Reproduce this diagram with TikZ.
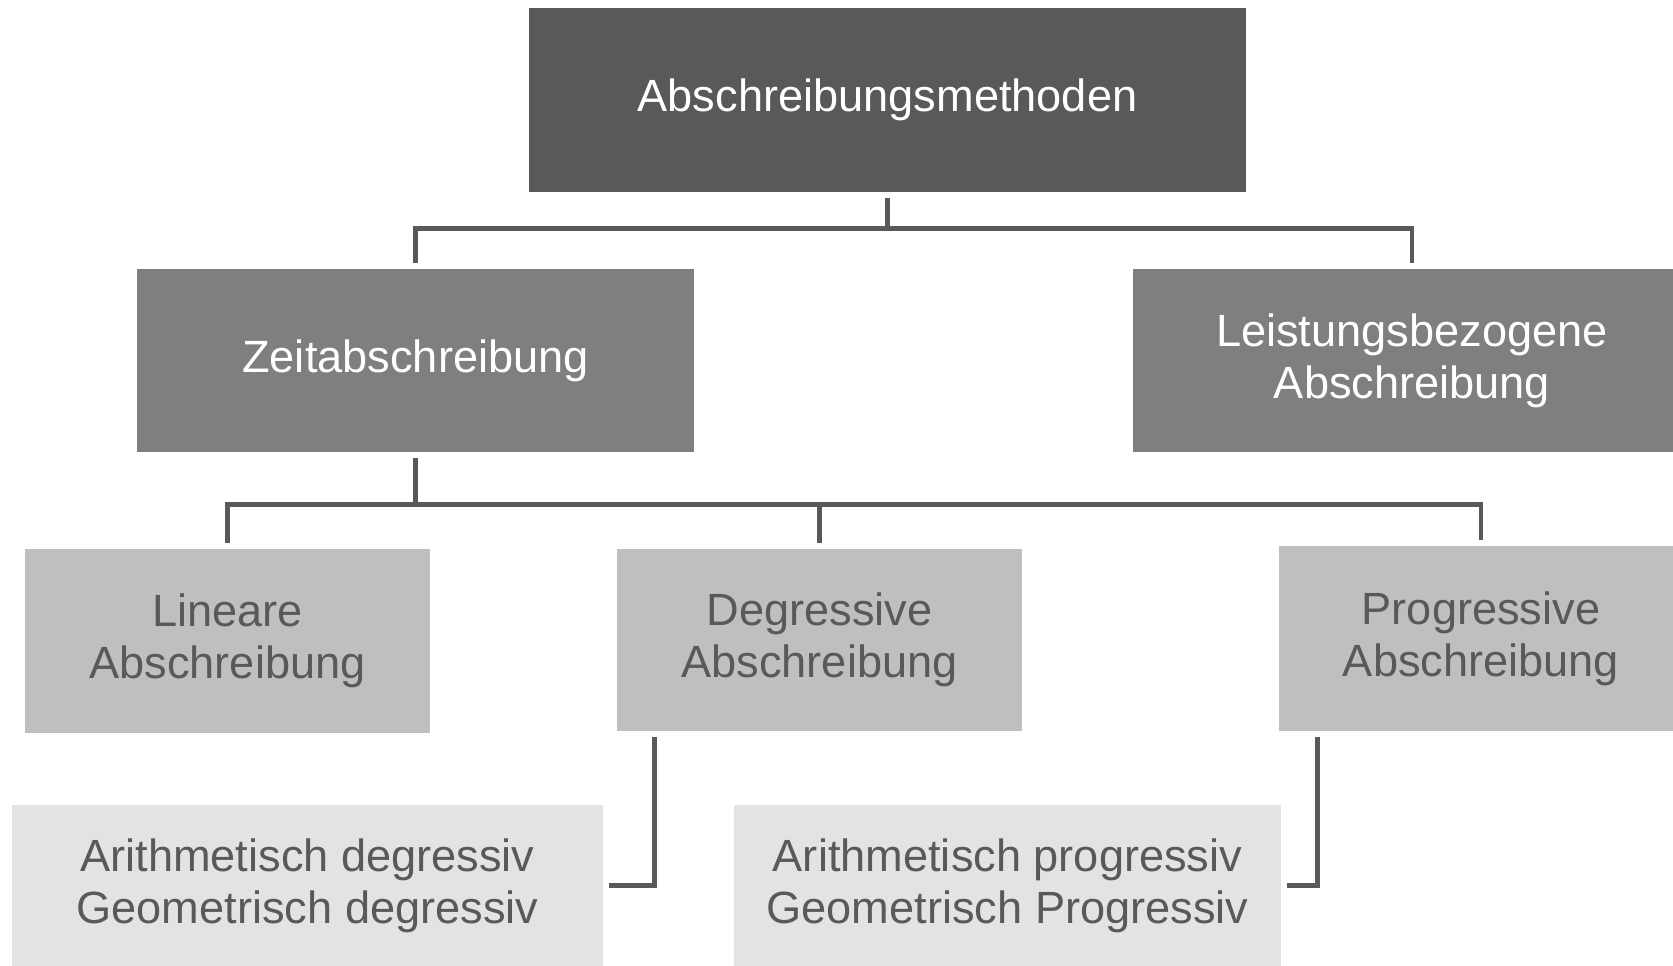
\documentclass[tikz,border=0pt]{standalone}
\usepackage{fontspec}
\setmainfont{Liberation Sans}
\definecolor{toncol}{RGB}{89,89,89}
\definecolor{midcol}{RGB}{127,127,127}
\definecolor{hellcol}{RGB}{191,191,191}
\definecolor{blasscol}{RGB}{227,227,227}

\begin{document}
\begin{tikzpicture}[
        box/.style={rectangle, inner sep=0pt, align=center, font=\fontsize{25.7}{29.5}\selectfont},
        stufea/.style={box, fill=toncol, text=white},
        stufeb/.style={box, fill=midcol, text=white},
        stufec/.style={box, fill=hellcol, text=toncol},
        stufed/.style={box, fill=blasscol, text=toncol},
        conn/.style={draw=toncol, line width=0.094cm, shorten <=0.12cm, shorten >=0.12cm}
    ]
        \useasboundingbox (0,0) rectangle (33.46,-19.32);
        \node [stufea, minimum width=14.34cm, minimum height=3.68cm] (methoden) at (17.75,-2) {Abschreibungsmethoden};
        \node [stufeb, minimum width=11.14cm, minimum height=3.66cm] (zeit) at (8.31,-7.21) {Zeitabschreibung};
        \node [stufeb, minimum width=11.16cm, minimum height=3.66cm] (leistung) at (28.24,-7.21) {Leistungsbezogene\\Abschreibung};
        \node [stufec, minimum width=8.1cm, minimum height=3.68cm] (linear) at (4.55,-12.82) {Lineare\\Abschreibung};
        \node [stufec, minimum width=8.1cm, minimum height=3.64cm] (degressiv) at (16.39,-12.8) {Degressive\\Abschreibung};
        \node [stufec, minimum width=8.08cm, minimum height=3.7cm] (progressiv) at (29.62,-12.77) {Progressive\\Abschreibung};
        \node [stufed, minimum width=11.82cm, minimum height=3.22cm] (aritdeg) at (6.15,-17.71) {Arithmetisch degressiv\\Geometrisch degressiv};
        \node [stufed, minimum width=10.94cm, minimum height=3.22cm] (aritprog) at (20.15,-17.71) {Arithmetisch progressiv\\Geometrisch Progressiv};
        \draw [conn] (methoden.south) -- ++(0,-0.72) -| (zeit.north);
        \draw [conn] (methoden.south) -- ++(0,-0.72) -| (leistung.north);
        \draw [conn] (zeit.south) -- ++(0,-1.04) -| (linear.north);
        \draw [conn] (zeit.south) -- ++(0,-1.04) -| (degressiv.north);
        \draw [conn] (zeit.south) -- ++(0,-1.04) -| (progressiv.north);
        \draw [conn] ([xshift=0.76cm]degressiv.south west) |- (aritdeg.east);
        \draw [conn] ([xshift=0.78cm]progressiv.south west) |- (aritprog.east);
\end{tikzpicture}
\end{document}
